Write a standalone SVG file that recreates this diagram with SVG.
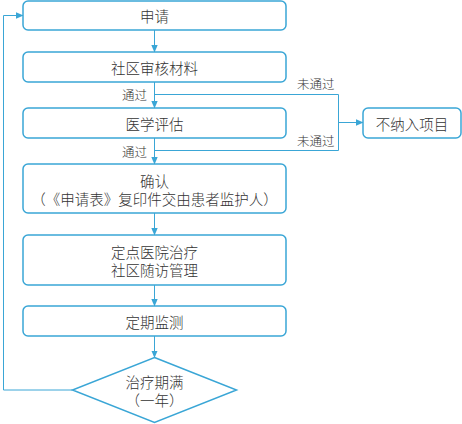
<svg xmlns="http://www.w3.org/2000/svg" width="462" height="424" viewBox="0 0 462 424">
<defs>
<marker id="ah" markerWidth="8" markerHeight="8" refX="7" refY="4" orient="auto" markerUnits="userSpaceOnUse">
<path d="M0,0.8 L7.5,4 L0,7.2 Z" fill="#3aa6d6"/>
</marker>
</defs>
<style>
.box{fill:#fff;stroke:#3aa6d6;stroke-width:1.5}
.ln{fill:none;stroke:#3aa6d6;stroke-width:1}
.t{font-family:"Noto Sans CJK SC","Liberation Sans",sans-serif;font-size:14.5px;font-weight:300;fill:#333;text-anchor:middle;dominant-baseline:central;text-spacing-trim:space-all;font-feature-settings:"halt" 0,"chws" 0}
.l{font-family:"Noto Sans CJK SC","Liberation Sans",sans-serif;font-size:12.5px;font-weight:300;fill:#333;dominant-baseline:central}
</style>
<rect width="462" height="424" fill="#fff"/>
<g id="connectors">
<line class="ln" x1="154.5" y1="30" x2="154.5" y2="52" marker-end="url(#ah)"/>
<line class="ln" x1="154.5" y1="82" x2="154.5" y2="108" marker-end="url(#ah)"/>
<line class="ln" x1="154.5" y1="138" x2="154.5" y2="164" marker-end="url(#ah)"/>
<line class="ln" x1="154.5" y1="213" x2="154.5" y2="235" marker-end="url(#ah)"/>
<line class="ln" x1="154.5" y1="285" x2="154.5" y2="306" marker-end="url(#ah)"/>
<line class="ln" x1="154.5" y1="336" x2="154.5" y2="357.5" marker-end="url(#ah)"/>
<polyline class="ln" points="154.5,94.5 338.5,94.5 338.5,150.5 154.5,150.5"/>
<line class="ln" x1="338.5" y1="122.5" x2="363" y2="122.5" marker-end="url(#ah)"/>
<polyline class="ln" points="72.5,390 3.5,390 3.5,15.5 23,15.5" marker-end="url(#ah)"/>
<text class="l" x="147" y="94" text-anchor="end">通过</text>
<text class="l" x="147" y="151" text-anchor="end">通过</text>
<text class="l" x="297" y="83">未通过</text>
<text class="l" x="297" y="140.5">未通过</text>
</g>
<g id="n1"><rect class="box" x="23" y="1" width="263" height="29" rx="5"/><text class="t" x="154.5" y="15.5">申请</text></g>
<g id="n2"><rect class="box" x="23" y="52" width="263" height="30" rx="5"/><text class="t" x="154.5" y="67">社区审核材料</text></g>
<g id="n3"><rect class="box" x="23" y="108" width="263" height="30" rx="5"/><text class="t" x="154.5" y="123">医学评估</text></g>
<g id="n4"><rect class="box" x="23" y="164" width="263" height="49" rx="5"/><text class="t" x="154.5" y="180">确认</text><text class="t" x="154.5" y="198">（《申请表》复印件交由患者监护人）</text></g>
<g id="n5"><rect class="box" x="23" y="235" width="263" height="50" rx="5"/><text class="t" x="154.5" y="251">定点医院治疗</text><text class="t" x="154.5" y="269">社区随访管理</text></g>
<g id="n6"><rect class="box" x="23" y="306" width="263" height="30" rx="5"/><text class="t" x="154.5" y="321.5">定期监测</text></g>
<g id="n7"><polygon class="box" points="154.5,357.5 236.5,390 154.5,422.5 72.5,390"/><text class="t" x="154.5" y="381">治疗期满</text><text class="t" x="154.5" y="399">（一年）</text></g>
<g id="n8"><rect class="box" x="363" y="108" width="98" height="30" rx="5"/><text class="t" x="412" y="123">不纳入项目</text></g>
</svg>
